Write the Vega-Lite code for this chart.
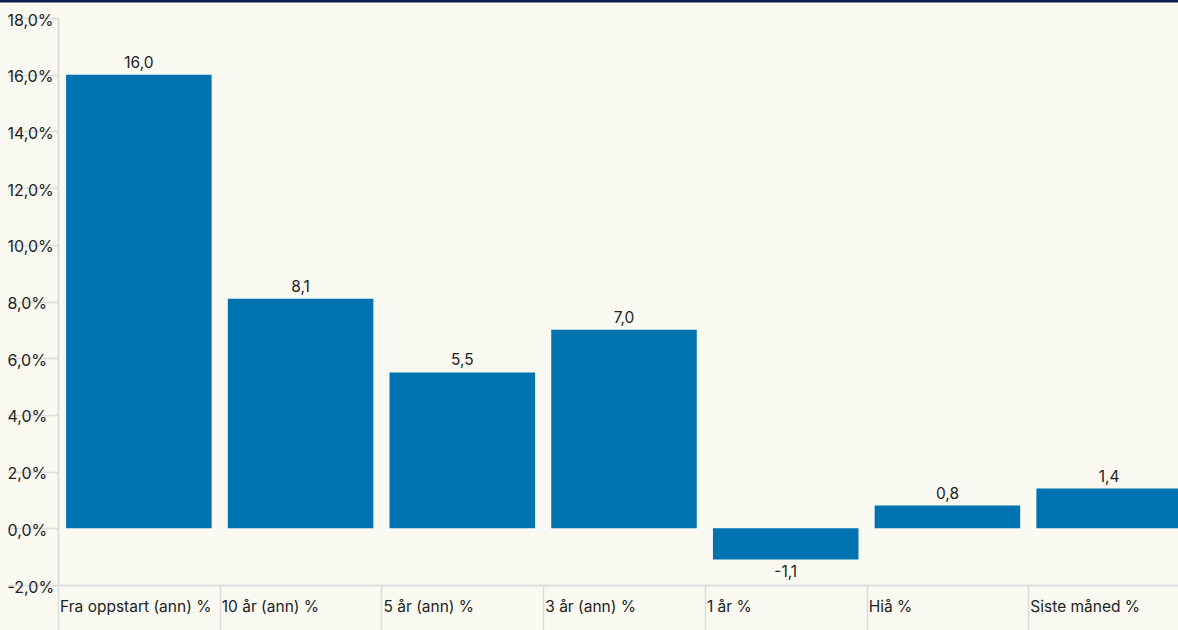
{
  "$schema": "https://vega.github.io/schema/vega-lite/v6.json",
  "autosize": {"type": "none"},
  "width": 1132,
  "height": 567,
  "padding": {"left": 58, "top": 18, "right": -12, "bottom": 45},
  "background": "#fafaf3",
  "config": {
    "view": {"stroke": null},
    "locale": {"number": {"decimal": ",", "thousands": " ", "grouping": [3], "currency": ["", " kr"], "minus": "-"}},
    "font": "Inter",
    "axis": {"labelFont": "Inter", "labelFontSize": 15.5, "labelColor": "#222222", "domainColor": "#dcdcdc", "tickColor": "#dcdcdc", "domainWidth": 2, "tickWidth": 1.5}
  },
  "layer": [
    {
      "data": {"values": [
        {"periode": "Fra oppstart (ann) %", "avkastning": 16.0},
        {"periode": "10 år (ann) %", "avkastning": 8.1},
        {"periode": "5 år (ann) %", "avkastning": 5.5},
        {"periode": "3 år (ann) %", "avkastning": 7.0},
        {"periode": "1 år %", "avkastning": -1.1},
        {"periode": "Hiå %", "avkastning": 0.8},
        {"periode": "Siste måned %", "avkastning": 1.4}
      ]},
      "encoding": {
        "x": {"field": "periode", "type": "nominal", "sort": null,
              "scale": {"paddingInner": 0.1, "paddingOuter": 0.05},
              "axis": {"title": null, "labelAngle": 0, "labelAlign": "left", "labelBaseline": "middle",
                       "labelOffset": 1.5, "tickSize": 45, "tickOffset": -80.8, "labelPadding": -24, "labelLimit": 200}},
        "y": {"field": "avkastning", "type": "quantitative",
              "scale": {"domain": [-2, 18], "nice": false},
              "axis": {"title": null, "grid": false, "values": [-2, 0, 2, 4, 6, 8, 10, 12, 14, 16, 18],
                       "labelExpr": "replace(format(datum.value, '.1f'), '.', ',') + '%'", "labelFontSize": 16,
                       "tickSize": 51, "labelPadding": 0, "labelAlign": "left", "labelBaseline": "middle", "labelOffset": 2}}
      },
      "layer": [
        {"mark": {"type": "bar", "color": "#0173b1"}},
        {
          "transform": [{"filter": "datum.avkastning >= 0"}],
          "mark": {"type": "text", "baseline": "bottom", "dy": -4, "fontSize": 15.5, "color": "#222222"},
          "encoding": {"text": {"field": "avkastning", "type": "quantitative", "format": ".1f"}}
        },
        {
          "transform": [{"filter": "datum.avkastning < 0"}],
          "mark": {"type": "text", "baseline": "top", "dy": 6, "fontSize": 15.5, "color": "#222222"},
          "encoding": {"text": {"field": "avkastning", "type": "quantitative", "format": ".1f"}}
        }
      ]
    },
    {
      "data": {"values": [{"linje": "topp"}]},
      "mark": {"type": "rule", "color": "#0c1c4e", "strokeWidth": 3, "clip": false},
      "encoding": {
        "y": {"datum": 18.6},
        "x": {"datum": -0.06, "type": "quantitative", "scale": {"domain": [0, 1], "nice": false, "zero": false}, "axis": null},
        "x2": {"datum": 1.1}
      }
    }
  ],
  "resolve": {"scale": {"x": "independent"}}
}
